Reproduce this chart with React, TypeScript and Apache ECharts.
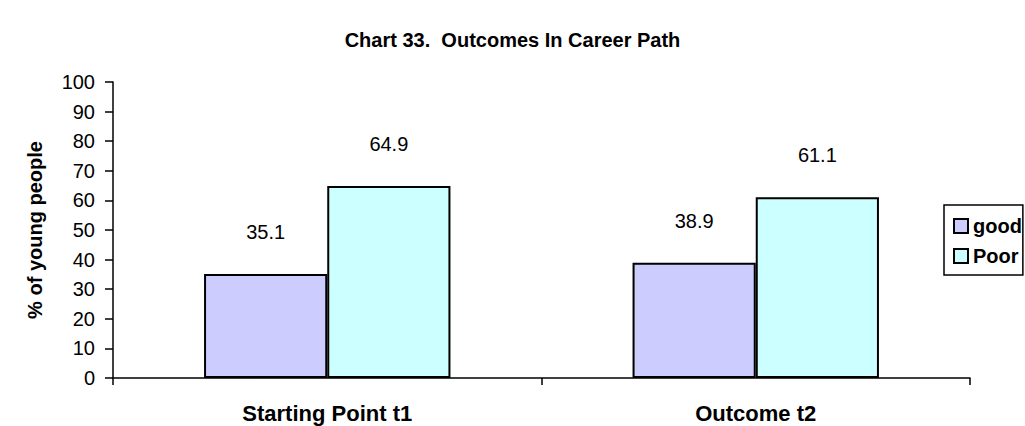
import React, { useEffect, useRef } from "react";
import * as echarts from "echarts";

const categories = ["Starting Point t1", "Outcome t2"];
const goodValues = [35.1, 38.9];
const poorValues = [64.9, 61.1];
const seriesNames = ["good", "Poor"];

const FONT = "Arial";

export default function App() {
  const ref = useRef<HTMLDivElement>(null);
  useEffect(() => {
    if (!ref.current) return;
    const chart = echarts.init(ref.current, undefined, { renderer: "svg" });
    const barCommon = {
      type: "bar" as const,
      barGap: "0%",
      barCategoryGap: "42.5%",
      label: {
        show: true,
        position: "top" as const,
        distance: 32,
        color: "#000",
        fontSize: 20,
        fontFamily: FONT,
      },
    };
    chart.setOption({
      animation: false,
      backgroundColor: "#fff",
      title: {
        text: "Chart 33.  Outcomes In Career Path",
        left: "center",
        top: 25,
        textStyle: { fontFamily: FONT, fontWeight: "bold", fontSize: 20, color: "#000" },
      },
      legend: {
        orient: "vertical",
        left: 944,
        top: 205,
        padding: [11, 1, 9, 9],
        itemGap: 10,
        itemWidth: 14,
        itemHeight: 14,
        icon: "rect",
        borderColor: "#000",
        borderWidth: 1.5,
        textStyle: { fontFamily: FONT, fontWeight: "bold", fontSize: 20, color: "#000" },
        data: seriesNames,
      },
      grid: { left: 113, right: 55, top: 82, bottom: 48 },
      xAxis: {
        type: "category",
        data: categories,
        axisLine: { lineStyle: { color: "#000", width: 1.5 } },
        axisTick: { show: true, length: 7, lineStyle: { color: "#000", width: 1.5 } },
        axisLabel: { fontFamily: FONT, fontWeight: "bold", fontSize: 22, color: "#000", margin: 24 },
      },
      yAxis: {
        type: "value",
        min: 0,
        max: 100,
        interval: 10,
        name: "% of young people",
        nameLocation: "middle",
        nameGap: 68,
        nameTextStyle: { fontFamily: FONT, fontWeight: "bold", fontSize: 20, color: "#000" },
        splitLine: { show: false },
        axisLine: { show: true, lineStyle: { color: "#000", width: 1.5 } },
        axisTick: { show: true, length: 8, lineStyle: { color: "#000", width: 1.5 } },
        axisLabel: { fontFamily: FONT, fontSize: 20, color: "#000", margin: 18 },
      },
      series: [
        {
          ...barCommon,
          name: seriesNames[0],
          data: goodValues,
          itemStyle: { color: "#ccccff", borderColor: "#000", borderWidth: 2 },
        },
        {
          ...barCommon,
          name: seriesNames[1],
          data: poorValues,
          itemStyle: { color: "#ccffff", borderColor: "#000", borderWidth: 2 },
        },
      ],
    });
    return () => chart.dispose();
  }, []);
  return (
    <div
      ref={ref}
      style={{ position: "fixed", left: 0, top: 0, width: 1025, height: 426 }}
    />
  );
}
